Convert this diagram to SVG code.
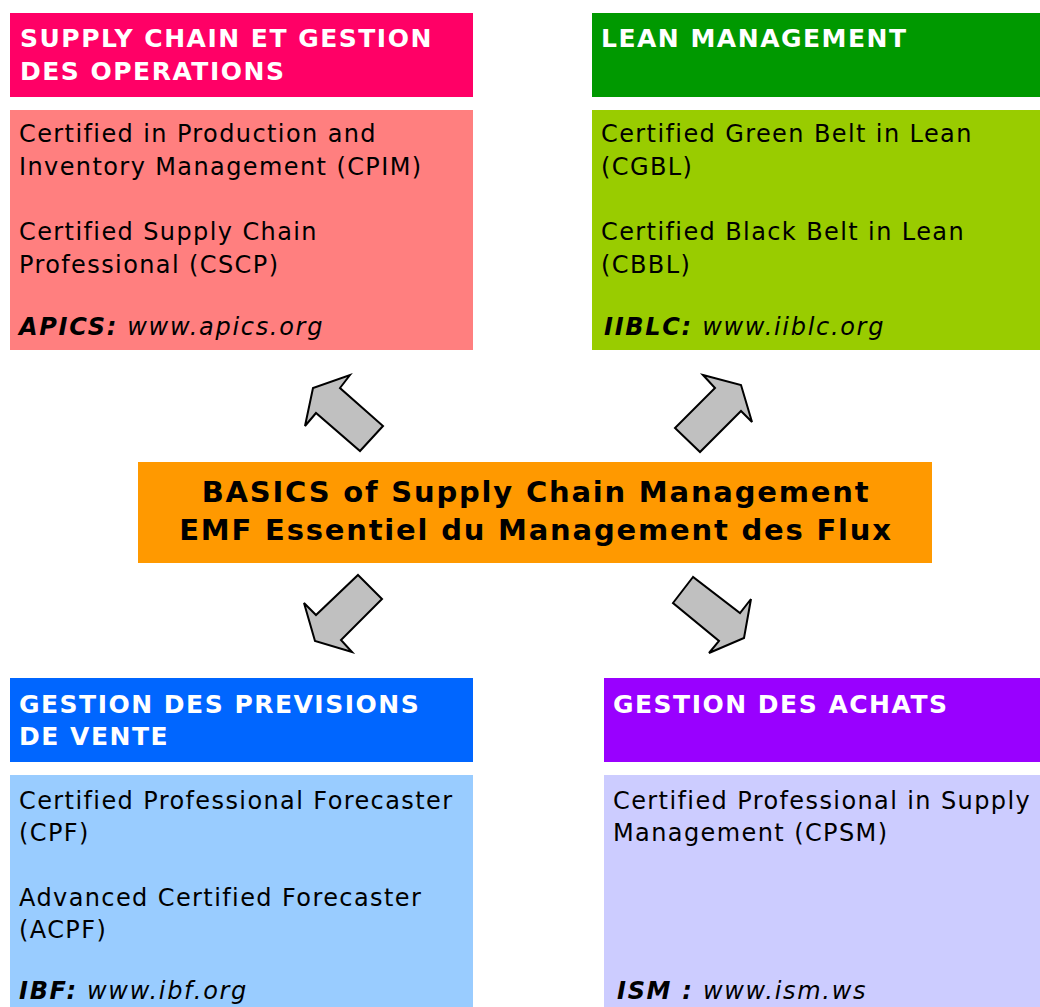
<svg xmlns="http://www.w3.org/2000/svg" width="1040" height="1007" viewBox="0 0 1040 1007">
<style>
text{font-family:"DejaVu Sans","Verdana",sans-serif;fill:#000}
.h{font-size:25px;font-weight:bold;fill:#fff;letter-spacing:1.5px}
.b{font-size:24px;letter-spacing:1.4px}
.s{font-size:24px;font-style:italic;letter-spacing:1.7px}
.s tspan.k{font-weight:bold}
.c{font-size:29px;font-weight:bold;text-anchor:middle;letter-spacing:1.8px}
.arr{fill:#C0C0C0;stroke:#000;stroke-width:2;stroke-linejoin:miter}
</style>
<rect width="1040" height="1007" fill="#fff"/>
<g id="scm">
<rect x="10" y="13" width="463" height="84" fill="#FF0066"/>
<rect x="10" y="110" width="463" height="240" fill="#FF7F7F"/>
<text class="h" x="20" y="47">SUPPLY CHAIN ET GESTION</text>
<text class="h" x="20" y="80">DES OPERATIONS</text>
<text class="b" x="19" y="142">Certified in Production and</text>
<text class="b" x="19" y="175">Inventory Management (CPIM)</text>
<text class="b" x="19" y="240">Certified Supply Chain</text>
<text class="b" x="19" y="273">Professional (CSCP)</text>
<text class="s" x="19" y="335"><tspan class="k">APICS:</tspan> www.apics.org</text>
</g>
<g id="lean">
<rect x="592" y="13" width="448" height="84" fill="#009900"/>
<rect x="592" y="110" width="448" height="240" fill="#99CC00"/>
<text class="h" x="601" y="47">LEAN MANAGEMENT</text>
<text class="b" x="601" y="142">Certified Green Belt in Lean</text>
<text class="b" x="601" y="175">(CGBL)</text>
<text class="b" x="601" y="240">Certified Black Belt in Lean</text>
<text class="b" x="601" y="273">(CBBL)</text>
<text class="s" x="604" y="335"><tspan class="k">IIBLC:</tspan> www.iiblc.org</text>
</g>
<g id="basics">
<rect x="138" y="462" width="794" height="101" fill="#FF9900"/>
<text class="c" x="536" y="502">BASICS of Supply Chain Management</text>
<text class="c" x="536" y="540">EMF Essentiel du Management des Flux</text>
</g>
<g id="prev">
<rect x="10" y="678" width="463" height="84" fill="#0066FF"/>
<rect x="10" y="775" width="463" height="232" fill="#99CCFF"/>
<text class="h" x="19" y="713">GESTION DES PREVISIONS</text>
<text class="h" x="19" y="745">DE VENTE</text>
<text class="b" x="19" y="809">Certified Professional Forecaster</text>
<text class="b" x="19" y="841">(CPF)</text>
<text class="b" x="19" y="906">Advanced Certified Forecaster</text>
<text class="b" x="19" y="938">(ACPF)</text>
<text class="s" x="19" y="999"><tspan class="k">IBF:</tspan> www.ibf.org</text>
</g>
<g id="achats">
<rect x="604" y="678" width="436" height="84" fill="#9900FF"/>
<rect x="604" y="775" width="436" height="232" fill="#CCCCFF"/>
<text class="h" x="613" y="713">GESTION DES ACHATS</text>
<text class="b" x="613" y="809">Certified Professional in Supply</text>
<text class="b" x="613" y="841">Management (CPSM)</text>
<text class="s" x="617" y="999"><tspan class="k">ISM :</tspan> www.ism.ws</text>
</g>
<g id="connectors">
<polygon class="arr" points="350,375 340,388 383,426 360,451 316,413 305,426 313,388"/>
<polygon class="arr" points="703,375 741,385 752,422 741,411 700,452 675,428 715,388"/>
<polygon class="arr" points="358,575 382,599 341,640 352,652 315,641 304,603 316,615"/>
<polygon class="arr" points="693,577 673,603 719,641 709,653 744,638 751,599 740,613"/>
</g>
</svg>
